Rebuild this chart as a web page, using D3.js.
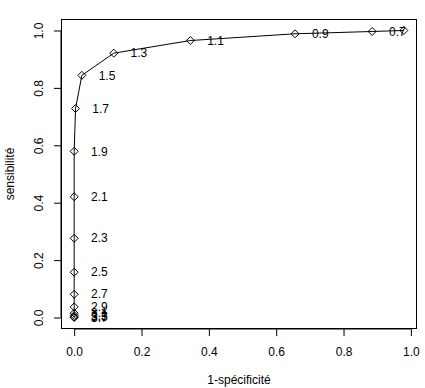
<!DOCTYPE html>
<html><head><meta charset="utf-8">
<script src="https://cdn.jsdelivr.net/npm/d3@7"></script>
<style>body{margin:0;background:#fff}svg{display:block}text{font-family:"Liberation Sans",Arial,sans-serif;fill:#000}</style>
</head><body><svg id="c" width="425" height="388"></svg>
<script>
const thresholds = ["0.5","0.7","0.9","1.1","1.3","1.5","1.7","1.9","2.1","2.3","2.5","2.7","2.9","3.1","3.3","3.5","3.7"];
const fpr = [0.979,0.885,0.656,0.345,0.1175,0.0228,0.004,0,0,0,0,0,0,0,0,0,0];
const tpr = [1.0,0.9965,0.9885,0.965,0.921,0.8436,0.728,0.579,0.4206,0.276,0.158,0.081,0.037,0.015,0.007,0.002,0];
const xTicks = [0,0.2,0.4,0.6,0.8,1.0];
const yTicks = [0,0.2,0.4,0.6,0.8,1.0];
const xTitle = "1-spécificité", yTitle = "sensibilité";

const L=61,R=417,T=19,B=329;
const svg=d3.select("#c");
const xr=0.979;
const x=d3.scaleLinear().domain([-0.04*xr, xr*1.04]).range([L,R]);
const y=d3.scaleLinear().domain([-0.04,1.04]).range([B,T]);
const data=thresholds.map((t,i)=>({t,x:fpr[i],y:tpr[i]}));

svg.append("defs").append("clipPath").attr("id","clip").append("rect")
  .attr("x",L).attr("y",T).attr("width",R-L).attr("height",B-T);

// axes
const xa=svg.append("g").attr("transform",`translate(0,${B})`)
  .call(d3.axisBottom(x).tickValues(xTicks).tickFormat(d3.format(".1f")).tickSizeOuter(0).tickSize(7).tickPadding(11));
const ya=svg.append("g").attr("transform",`translate(${L},0)`)
  .call(d3.axisLeft(y).tickValues(yTicks).tickFormat(d3.format(".1f")).tickSizeOuter(0).tickSize(7));
[xa,ya].forEach(a=>{a.selectAll("text").style("font-size","12px").style("font-family",'"Liberation Sans",Arial,sans-serif');
  a.selectAll("line").attr("stroke","#000");a.select(".domain").attr("stroke","#000");});
xa.select(".domain").attr("d",`M${x(0)},0H${x(1)}`);
ya.select(".domain").attr("d",`M0,${y(0)}V${y(1)}`);
ya.selectAll(".tick text").attr("transform","rotate(-90)").attr("x",0).attr("y",-22)
  .attr("dy","0").attr("text-anchor","middle").attr("dominant-baseline","central");

svg.append("rect").attr("x",L+0.5).attr("y",T+0.5).attr("width",R-L-1).attr("height",B-T-1)
  .attr("fill","none").attr("stroke","#000").attr("stroke-width",1);

svg.append("text").attr("x",(L+R)/2).attr("y",384).attr("text-anchor","middle").style("font-size","12px").text(xTitle);
svg.append("text").attr("transform",`translate(14,${(T+B)/2}) rotate(-90)`).attr("text-anchor","middle").style("font-size","12px").text(yTitle);

const g=svg.append("g").attr("clip-path","url(#clip)");
g.append("path").datum(data).attr("fill","none").attr("stroke","#000").attr("stroke-width",1)
  .attr("d",d3.line().x(d=>x(d.x)).y(d=>y(d.y)));
g.selectAll("path.pt").data(data).enter().append("path").attr("class","pt")
  .attr("d",d=>{const cx=x(d.x),cy=y(d.y),r=4;return `M${cx},${cy-r}L${cx+r},${cy}L${cx},${cy+r}L${cx-r},${cy}Z`;})
  .attr("fill","none").attr("stroke","#000").attr("stroke-width",1);
g.selectAll("text.lab").data(data).enter().append("text").attr("class","lab")
  .attr("x",d=>x(d.x+0.05)).attr("y",d=>y(d.y)).attr("dy","0.35em")
  .style("font-size","12px").text(d=>d.t);
</script></body></html>
